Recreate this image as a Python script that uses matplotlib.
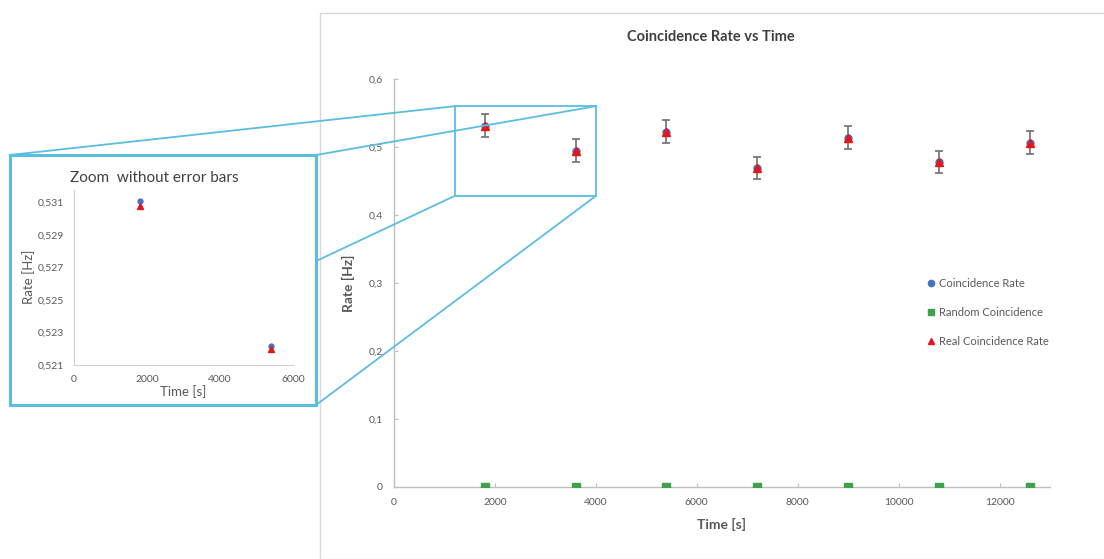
import matplotlib
matplotlib.use("Agg")
import matplotlib.pyplot as plt
from matplotlib.patches import Rectangle, ConnectionPatch
from matplotlib.ticker import FuncFormatter, MultipleLocator
from matplotlib.lines import Line2D

plt.rcParams['font.family'] = ['Lato', 'DejaVu Sans']

# ---- data ----
time_s = [1800, 3600, 5400, 7200, 9000, 10800, 12600]
coincidence_rate = [0.5311, 0.4946, 0.5222, 0.4686, 0.5138, 0.4776, 0.5065]
random_coincidence = [0.0003, 0.0003, 0.0002, 0.0002, 0.0003, 0.0002, 0.0003]
real_coincidence_rate = [0.5308, 0.4943, 0.5220, 0.4684, 0.5135, 0.4774, 0.5062]
rate_error = [0.017, 0.017, 0.017, 0.016, 0.017, 0.016, 0.017]
labels = ["Coincidence Rate", "Random Coincidence", "Real Coincidence Rate"]
zoom_region = (1200, 4000, 0.428, 0.560)  # x0, x1, y0, y1 of highlighted box

W, H = 1104, 559
fig = plt.figure(figsize=(W / 100, H / 100), dpi=100)

def px(x0, y0, x1, y1):
    # pixel box (top-left origin) -> figure fraction [l, b, w, h]
    return [x0 / W, 1 - y1 / H, (x1 - x0) / W, (y1 - y0) / H]

grey_txt = '#595959'
axis_col = '#bfbfbf'
c_blue, c_green, c_red = '#4472c4', '#3da34a', '#e3161c'
c_zoom = '#5bbde0'

def comma(v, pos):
    s = ('%g' % round(v, 6))
    return s.replace('.', ',')

# chart area frame
fig.add_artist(Rectangle((320 / W, 0), 1, 1 - 13 / H, transform=fig.transFigure,
                         fill=False, edgecolor='#d9d9d9', lw=1.0, zorder=-1))

# ---- main axes ----
ax = fig.add_axes(px(394, 79, 1050, 487))
ax.set_zorder(0)
ax.set_facecolor('none')
ax.errorbar(time_s, coincidence_rate, yerr=rate_error, fmt='o', color=c_blue,
            ms=5, ecolor='#6e6e6e', elinewidth=1.2, capsize=3, capthick=1.2, zorder=3)
ax.plot(time_s, random_coincidence, 's', color=c_green, ms=5.5, zorder=4)
ax.plot(time_s, real_coincidence_rate, '^', color=c_red, ms=5.5, zorder=5)
ax.set_xlim(0, 13000)
ax.set_ylim(0, 0.6)
ax.xaxis.set_major_locator(MultipleLocator(2000))
ax.yaxis.set_major_locator(MultipleLocator(0.1))
ax.yaxis.set_major_formatter(FuncFormatter(comma))
for s in ['top', 'right']:
    ax.spines[s].set_visible(False)
for s in ['left', 'bottom']:
    ax.spines[s].set_color(axis_col)
    ax.spines[s].set_linewidth(1.0)
ax.tick_params(direction='in', length=3, color=axis_col, labelsize=7.5,
               labelcolor=grey_txt, pad=8)
ax.set_xlabel('Time [s]', fontsize=10, fontweight='bold', color=grey_txt, labelpad=8)
ax.set_ylabel('Rate [Hz]', fontsize=10, fontweight='bold', color=grey_txt, labelpad=10)
fig.text(711 / W, 1 - 37 / H, 'Coincidence Rate vs Time', ha='center', va='center',
         fontsize=10.5, fontweight='bold', color='#404040')

handles = [Line2D([], [], ls='', marker='o', color=c_blue, ms=4.5),
           Line2D([], [], ls='', marker='s', color=c_green, ms=4.5),
           Line2D([], [], ls='', marker='^', color=c_red, ms=5)]
leg = fig.legend(handles, labels, loc='upper left', bbox_to_anchor=(922 / W, 1 - 272 / H),
                 frameon=False, fontsize=8, labelcolor=grey_txt, handlelength=0.6,
                 handletextpad=0.4, labelspacing=1.65, borderpad=0)

# highlighted rectangle in main axes
x0, x1, y0, y1 = zoom_region
ax.add_patch(Rectangle((x0, y0), x1 - x0, y1 - y0, fill=False, edgecolor=c_zoom,
                       lw=1.3, zorder=2, clip_on=False))

# inset box in figure pixels
bx0, by0, bx1, by1 = 10, 155, 316, 405
fb = px(bx0, by0, bx1, by1)
# connector lines: inset corners -> rectangle corners
pairs = [((fb[0], fb[1] + fb[3]), (x0, y1)),
         ((fb[0] + fb[2], fb[1] + fb[3]), (x1, y1)),
         ((fb[0], fb[1]), (x0, y0)),
         ((fb[0] + fb[2], fb[1]), (x1, y0))]
for pf, pd in pairs:
    cp = ConnectionPatch(xyA=pf, coordsA=fig.transFigure, xyB=pd, coordsB=ax.transData,
                         color=c_zoom, lw=1.3, zorder=1)
    fig.add_artist(cp)

box = fig.add_axes(fb)
box.set_zorder(2)
box.set_facecolor('white')
box.set_xticks([]); box.set_yticks([])
for s in box.spines.values():
    s.set_color(c_zoom); s.set_linewidth(2.2)

# ---- inset axes ----
ins = fig.add_axes(px(74, 189.5, 293, 365))
ins.set_zorder(3)
ins.set_facecolor('none')
ins.plot(time_s, coincidence_rate, 'o', color=c_blue, ms=3.5, zorder=3)
ins.plot(time_s, random_coincidence, 's', color=c_green, ms=3.5, zorder=3)
ins.plot(time_s, real_coincidence_rate, '^', color=c_red, ms=3.8, zorder=4)
ins.set_xlim(0, 6000)
ins.set_ylim(0.521, 0.5318)
ins.xaxis.set_major_locator(MultipleLocator(2000))
ins.set_yticks([0.521, 0.523, 0.525, 0.527, 0.529, 0.531])
ins.yaxis.set_major_formatter(FuncFormatter(comma))
for s in ['top', 'right']:
    ins.spines[s].set_visible(False)
for s in ['left', 'bottom']:
    ins.spines[s].set_color('#d0d0d0')
ins.tick_params(length=0, labelsize=7.5, labelcolor=grey_txt, pad=7)
ins.set_xlabel('Time [s]', fontsize=9.5, color=grey_txt, labelpad=1)
ins.set_ylabel('Rate [Hz]', fontsize=9.5, color=grey_txt, labelpad=2)
fig.text(70 / W, 1 - 178 / H, 'Zoom  without error bars', ha='left', va='center',
         fontsize=11, color='#404040', zorder=5)

fig.savefig('out.png', dpi=100, facecolor='white')
